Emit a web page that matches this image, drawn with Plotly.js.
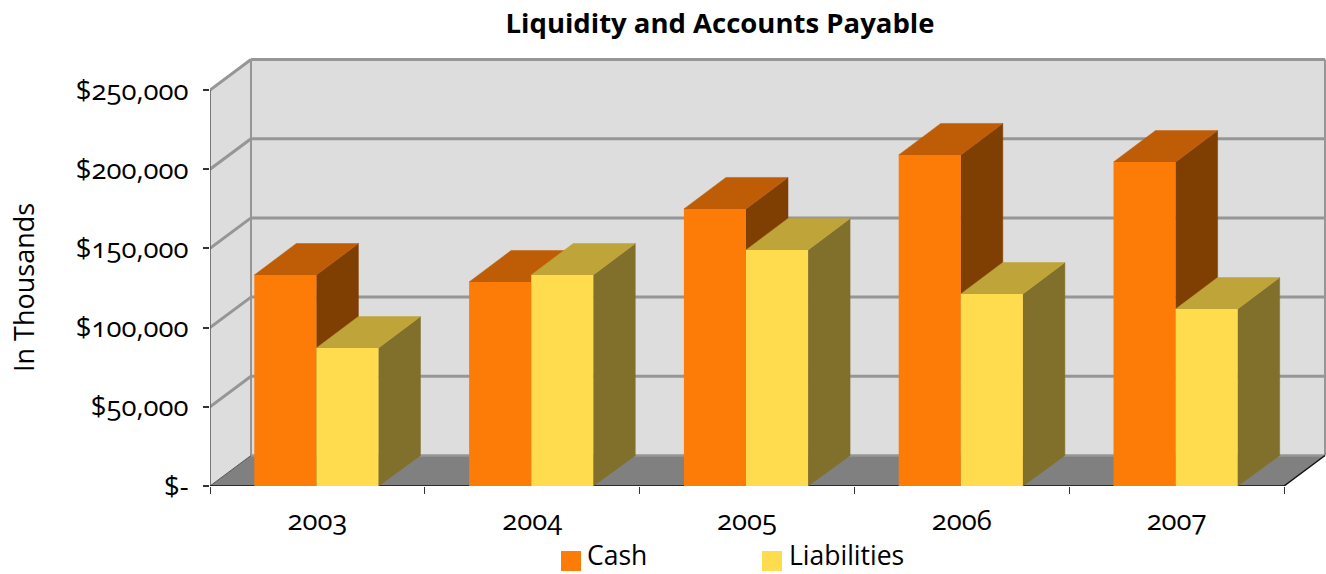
<!DOCTYPE html>
<html><head><meta charset="utf-8">
<script src="https://cdn.plot.ly/plotly-3.0.1.min.js"></script>
<style>html,body{margin:0;padding:0;background:#fff}
#c{width:1326px;height:574px}
#c text{font-feature-settings:"onum" 1;font-variant-numeric:oldstyle-nums}
</style></head><body><div id="c"></div>
<script>
const categories=['2003','2004','2005','2006','2007'];
const cash=[133200,128800,174900,209000,204500];
const liabilities=[87100,133200,149000,121200,111700];
const seriesNames=['Cash','Liabilities'];
const yTickVals=[0,50000,100000,150000,200000,250000];
const yTickText=['$-','$50,000','$100,000','$150,000','$200,000','$250,000'];
const frontCol=['#FD7C08','#FFDB4E'],topCol=['#BF5D06','#BFA43A'],sideCol=['#7F3F02','#80702B'];

const FONT='"Open Sans", Lato, sans-serif';
const unitX=214.8, unitY=396/250000;      // px per data unit
const W=1326,H=574,L=210,T=50,B=88;
const xMax=(W-L)/unitX, yMax=(H-T-B)/unitY;
const wallDx=41/unitX, wallDy=30.5/unitY, barDx=42/unitX, barDy=31.5/unitY;
const barW=0.289, n=categories.length;
const labelX=categories.map((_,i)=>i+0.5);
const xs=labelX.map(v=>v-1/unitX);

function poly(xa,ya,color,z){return {type:'scatter',mode:'lines',x:xa.concat(xa[0]),y:ya.concat(ya[0]),fill:'toself',fillcolor:color,
  line:{color:color,width:0.5},hoverinfo:'skip',showlegend:false,zorder:z};}
const traces=[];
[cash,liabilities].forEach((vals,s)=>{
  vals.forEach((v,i)=>{
    const x0=xs[i]+(s-1)*barW,x1=x0+barW;
    traces.push(poly([x1,x1+barDx,x1+barDx,x1],[0,wallDy,v+barDy,v],sideCol[s],s+1));
    traces.push(poly([x0,x1,x1+barDx,x0+barDx],[v,v,v+barDy,v+barDy],topCol[s],s+1));
  });
});
[cash,liabilities].forEach((vals,s)=>traces.push({type:'bar',name:seriesNames[s],x:xs,y:vals,marker:{color:frontCol[s]},zorder:5,
  hovertemplate:'%{y:$,.0f}<extra>'+seriesNames[s]+'</extra>'}));

const shapes=[];
function sPoly(pts,fill,lineCol,lw){shapes.push({type:'path',layer:'below',xref:'x',yref:'y',
  path:'M'+pts.map(p=>p[0]+','+p[1]).join('L')+'Z',fillcolor:fill,line:{color:lineCol||fill,width:lw||0}});}
function sLine(a,b,col,w){shapes.push({type:'line',layer:'below',xref:'x',yref:'y',x0:a[0],y0:a[1],x1:b[0],y1:b[1],line:{color:col,width:w}});}
const topVal=250000;
sPoly([[0,0],[wallDx,wallDy],[wallDx,topVal+wallDy],[0,topVal]],'#DDDDDD');
sPoly([[wallDx,wallDy],[n+wallDx,wallDy],[n+wallDx,topVal+wallDy],[wallDx,topVal+wallDy]],'#DDDDDD');
sPoly([[0,0],[n,0],[n+wallDx,wallDy],[wallDx,wallDy]],'#808080');
yTickVals.slice(1).forEach(v=>{
  sLine([0,v],[wallDx,v+wallDy],'#969696',3);
  sLine([wallDx,v+wallDy],[n+wallDx,v+wallDy],'#969696',3);
});
sLine([wallDx,wallDy],[n+wallDx,wallDy],'#969696',2.5);
sLine([wallDx,wallDy],[wallDx,topVal+wallDy],'#969696',2);
sLine([n+wallDx,wallDy],[n+wallDx,topVal+wallDy],'#969696',2);
sLine([0,0],[0,topVal],'#555555',1.5);
sLine([0,0],[wallDx,wallDy],'#555555',1);
sLine([0,0],[n,0],'#111111',1.5);
sLine([n,0],[n+wallDx,wallDy],'#111111',1.5);

// legend swatches and labels
const annotations=[];
const pxX=p=>(p-L)/(W-L), pxY=p=>((H-B)-p)/(H-T-B);
[[561,588],[762,790]].forEach((p,s)=>{
  shapes.push({type:'rect',xref:'paper',yref:'paper',x0:pxX(p[0]),x1:pxX(p[0]+20),y0:pxY(571),y1:pxY(551),fillcolor:frontCol[s],line:{width:0}});
  annotations.push({xref:'paper',yref:'paper',x:pxX(p[1]),y:pxY(555),xanchor:'left',yanchor:'middle',
    text:seriesNames[s],showarrow:false,font:{family:FONT,size:26.5,color:'#000'},xshift:-3});
});
annotations.push({xref:'paper',yref:'paper',x:pxX(23),y:pxY(288),xanchor:'center',yanchor:'middle',textangle:-90,
  text:'In Thousands',showarrow:false,font:{family:FONT,size:27,color:'#000'}});

const layout={width:W,height:H,margin:{l:L,r:0,t:T,b:B},paper_bgcolor:'#fff',plot_bgcolor:'rgba(0,0,0,0)',
  showlegend:false,barmode:'group',bargap:1-2*barW,bargroupgap:0,
  title:{text:'<b>Liquidity and Accounts Payable</b>',x:720/W,xanchor:'center',y:1-23.5/H,yanchor:'middle',font:{family:FONT,size:27.5,color:'#000'}},
  xaxis:{range:[0,xMax],tickmode:'array',tickvals:labelX,ticktext:categories,ticks:'',showgrid:false,zeroline:false,showline:false,
    ticklabelstandoff:15,tickfont:{family:FONT,size:27.5,color:'#000'},
    minor:{tickmode:'linear',tick0:0,dtick:1,ticks:'outside',ticklen:7,tickcolor:'#333',tickwidth:1,showgrid:false}},
  yaxis:{range:[0,yMax],tickmode:'array',tickvals:yTickVals,ticktext:yTickText,ticks:'outside',ticklen:6,tickcolor:'#333',tickwidth:1.5,
    showgrid:false,zeroline:false,showline:false,ticklabelstandoff:9,tickfont:{family:FONT,size:27.5,color:'#000'}},
  shapes:shapes,annotations:annotations};
Plotly.newPlot('c',traces,layout,{displayModeBar:false,responsive:false});
</script></body></html>
